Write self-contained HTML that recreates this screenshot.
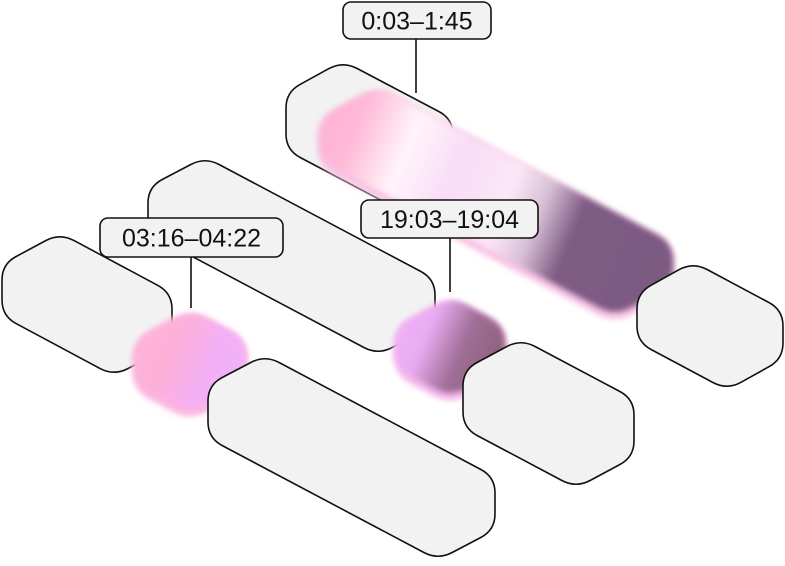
<!DOCTYPE html>
<html><head><meta charset="utf-8"><style>
html,body{margin:0;padding:0;background:#fff;width:785px;height:566px;overflow:hidden}
svg{display:block}
text{font-family:"Liberation Sans",sans-serif;font-size:25px;fill:#111}
</style></head><body>
<svg id="s" width="785" height="566" viewBox="0 0 785 566" xmlns="http://www.w3.org/2000/svg">
<defs>
<filter id="bl" x="-20%" y="-20%" width="140%" height="140%"><feGaussianBlur stdDeviation="3"/></filter>
<linearGradient id="gbar" x1="317" y1="100" x2="676" y2="250" gradientUnits="userSpaceOnUse">
<stop offset="0" stop-color="#ffb2d2"/><stop offset="0.12" stop-color="#ffb8d6"/>
<stop offset="0.26" stop-color="#fff4fa"/><stop offset="0.4" stop-color="#f9dcf6"/>
<stop offset="0.55" stop-color="#fbe6f6"/><stop offset="0.64" stop-color="#d8c0d6"/>
<stop offset="0.74" stop-color="#7e5b84"/><stop offset="1" stop-color="#7d5a82"/>
</linearGradient>
<linearGradient id="gc1" x1="132" y1="330" x2="248" y2="380" gradientUnits="userSpaceOnUse">
<stop offset="0" stop-color="#ffb4d6"/><stop offset="0.35" stop-color="#fdb0d8"/><stop offset="0.7" stop-color="#f3b0f8"/><stop offset="1" stop-color="#f2b2f6"/>
</linearGradient>
<linearGradient id="gc2" x1="393" y1="320" x2="507" y2="370" gradientUnits="userSpaceOnUse">
<stop offset="0" stop-color="#f0b2fa"/><stop offset="0.3" stop-color="#e8aaf0"/><stop offset="0.6" stop-color="#a06f98"/><stop offset="1" stop-color="#8a5d74"/>
</linearGradient>
</defs>
<g id="g"></g>
</svg>
<script>
function hexPts(A,d,l,h){
  return [[A[0],A[1]],[A[0]+d[0],A[1]+d[1]],[A[0]+d[0]+l[0],A[1]+d[1]+l[1]],
  [A[0]+d[0]+l[0],A[1]+d[1]+l[1]+h],[A[0]+l[0],A[1]+l[1]+h],[A[0],A[1]+h]];
}
function rpath(p,r){
  var n=p.length,s='';
  for(var i=0;i<n;i++){
    var a=p[(i-1+n)%n],b=p[i],c=p[(i+1)%n];
    var v1=[a[0]-b[0],a[1]-b[1]],v2=[c[0]-b[0],c[1]-b[1]];
    var l1=Math.hypot(v1[0],v1[1]),l2=Math.hypot(v2[0],v2[1]);
    var rr=Math.min(r,l1/2.2,l2/2.2);
    var p1=[b[0]+v1[0]/l1*rr,b[1]+v1[1]/l1*rr],p2=[b[0]+v2[0]/l2*rr,b[1]+v2[1]/l2*rr];
    s+=(i==0?'M':'L')+p1[0].toFixed(1)+' '+p1[1].toFixed(1)+' Q'+b[0]+' '+b[1]+' '+p2[0].toFixed(1)+' '+p2[1].toFixed(1)+' ';
  }
  return s+'Z';
}
var out='';
function box(A,d,l,h){
  out+='<path d="'+rpath(hexPts(A,d,l,h),16)+'" fill="#f2f2f2" stroke="#111" stroke-width="1.6"/>';
}
function glow(A,d,l,h,fill,edge){
  var P=rpath(hexPts(A,d,l,h),20);
  out+='<path d="'+P+'" fill="'+edge+'" filter="url(#bl)"/>';
  out+='<path d="'+rpath(hexPts([A[0]+4,A[1]],[d[0]-2,d[1]+1],[l[0]-4,l[1]-2],h-6),18)+'" fill="'+fill+'" filter="url(#bl)"/>';
}
function label(x,y,w,h,t,lx,ly1,ly2){
  out+='<line x1="'+lx+'" y1="'+ly1+'" x2="'+lx+'" y2="'+ly2+'" stroke="#111" stroke-width="1.6"/>';
  out+='<rect x="'+x+'" y="'+y+'" width="'+w+'" height="'+h+'" rx="8" fill="#f2f2f2" stroke="#111" stroke-width="1.6"/>';
  out+='<text x="'+(x+w/2)+'" y="'+(y+h/2+9)+'" text-anchor="middle">'+t+'</text>';
}
box([286,92],[57,-31],[110,58],58);
glow([317,118],[60,-32],[298,158],48,'url(#gbar)','#f7c2e4');
box([637,293],[56,-31],[90,48],49);
box([148,187],[57,-30],[230,122],46);
glow([393,327],[57,-31],[57,31],47,'url(#gc2)','#f4b6ea');
box([463,370],[58,-31],[113,60],58);
box([2,264],[58,-31],[112,60],52);
glow([132,340],[58,-31],[58,31],50,'url(#gc1)','#fbb6e0');
box([208,385],[57,-30],[230,122],53);
label(343,2,148,37,'0:03–1:45',416,39,93);
label(361,200,177,38,'19:03–19:04',450,238,292);
label(100,218,183,39,'03:16–04:22',191,257,308);
document.getElementById('g').innerHTML=out;
</script>
</body></html>
